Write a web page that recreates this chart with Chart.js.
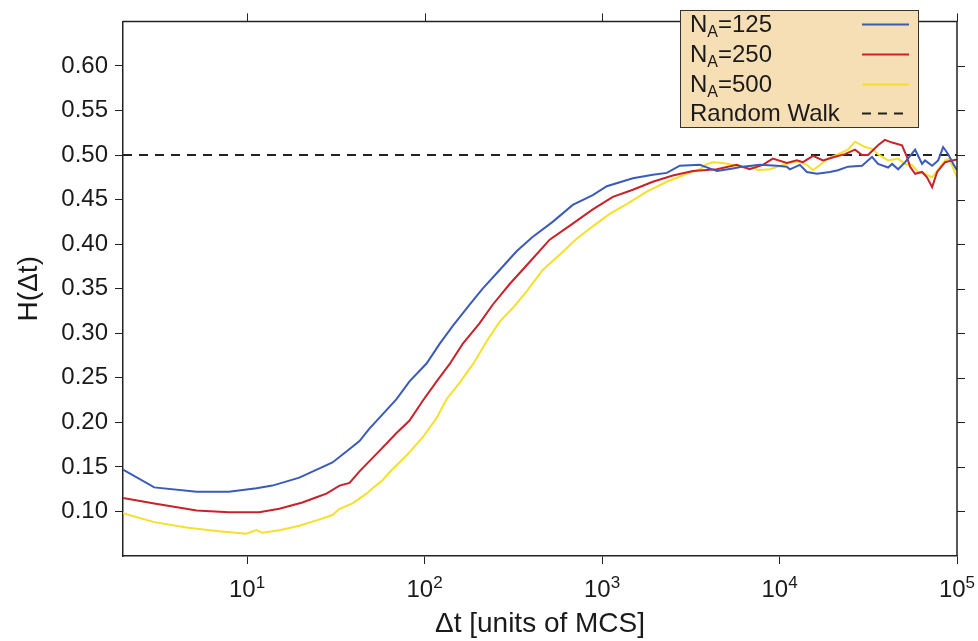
<!DOCTYPE html>
<html>
<head>
<meta charset="utf-8">
<script src="https://cdn.jsdelivr.net/npm/chart.js@4.4.0/dist/chart.umd.min.js"></script>
<style>
  html, body { margin: 0; padding: 0; background: #fff; }
</style>
</head>
<body>
<canvas id="chart" width="978" height="641"></canvas>
<script>
// values (x = Δt in MCS, y = H(Δt))
const dt125 = [2, 3, 5.2, 7.9, 11.3, 13.9, 19.7, 30.3, 37.8, 43, 48.9, 58, 69.5, 82.3, 102.6, 121.6, 143.9, 179.5, 212.5, 265, 330, 406, 527, 684, 887, 1064, 1492, 1933, 2318, 2743, 3556, 4437, 5458, 6213, 7745, 9661, 10990, 11429, 13025, 14259, 16250, 19235, 21335, 24313, 29174, 33196, 35894, 40923, 43073, 46589, 51024, 58093, 63552, 66090, 72432, 78316, 83560, 89186, 95265, 100000];
const h125 = [0.147, 0.127, 0.122, 0.122, 0.126, 0.129, 0.138, 0.155, 0.170, 0.179, 0.193, 0.209, 0.226, 0.246, 0.266, 0.288, 0.308, 0.332, 0.350, 0.371, 0.392, 0.408, 0.425, 0.444, 0.455, 0.465, 0.474, 0.478, 0.480, 0.488, 0.489, 0.482, 0.485, 0.487, 0.489, 0.488, 0.487, 0.484, 0.489, 0.481, 0.479, 0.481, 0.483, 0.487, 0.488, 0.498, 0.490, 0.486, 0.490, 0.484, 0.492, 0.506, 0.490, 0.494, 0.488, 0.494, 0.509, 0.501, 0.490, 0.483];

const dt250 = [2, 3, 5.2, 7.9, 11.7, 15.2, 20.5, 24.6, 28, 33.2, 37.8, 43, 55.7, 69.5, 82.3, 97.5, 117, 138, 164, 204, 242, 301, 391, 507, 684, 887, 1151, 1492, 1933, 2506, 3251, 4437, 5741, 6792, 8054, 9165, 10990, 12531, 13554, 15447, 17577, 20556, 23379, 26625, 29174, 31550, 35894, 39264, 43073, 48978, 52240, 54325, 58093, 63552, 67750, 72432, 77312, 85775, 93972, 100000];
const h250 = [0.115, 0.109, 0.101, 0.099, 0.099, 0.103, 0.110, 0.116, 0.120, 0.129, 0.132, 0.145, 0.168, 0.188, 0.202, 0.224, 0.246, 0.265, 0.288, 0.311, 0.332, 0.355, 0.380, 0.405, 0.423, 0.439, 0.453, 0.461, 0.470, 0.477, 0.482, 0.484, 0.489, 0.484, 0.489, 0.496, 0.491, 0.494, 0.492, 0.499, 0.494, 0.498, 0.501, 0.506, 0.500, 0.500, 0.511, 0.517, 0.514, 0.511, 0.498, 0.487, 0.479, 0.481, 0.475, 0.464, 0.481, 0.492, 0.494, 0.495];

const dt500 = [2, 3, 4.55, 6.71, 9.9, 11.3, 12.2, 15.2, 19.7, 24.6, 30.3, 33.2, 39.3, 47.1, 50.9, 58, 63.5, 79.3, 97.5, 117, 133, 157, 187, 224, 265, 313, 376, 463, 577, 720, 887, 1104, 1377, 1786, 2318, 3007, 3556, 3899, 4217, 4797, 5458, 6213, 7080, 7551, 8831, 10471, 12531, 14259, 15447, 16904, 18750, 22489, 24313, 26625, 30339, 33196, 35894, 40923, 46589, 51024, 55847, 60395, 66090, 72432, 78316, 85775, 90365, 100000];
const h500 = [0.098, 0.088, 0.082, 0.078, 0.075, 0.079, 0.076, 0.079, 0.084, 0.090, 0.096, 0.103, 0.109, 0.120, 0.126, 0.135, 0.144, 0.163, 0.183, 0.205, 0.226, 0.244, 0.265, 0.291, 0.313, 0.328, 0.347, 0.371, 0.388, 0.406, 0.420, 0.434, 0.445, 0.459, 0.470, 0.479, 0.484, 0.490, 0.492, 0.491, 0.489, 0.486, 0.487, 0.483, 0.484, 0.489, 0.493, 0.489, 0.483, 0.489, 0.496, 0.503, 0.506, 0.515, 0.509, 0.507, 0.501, 0.494, 0.496, 0.490, 0.489, 0.481, 0.479, 0.475, 0.484, 0.494, 0.496, 0.475];

const walkDt = [2, 100000];
const walkH = [0.5, 0.5];

const xTicks = [10, 100, 1000, 10000, 100000];
const yTicks = [0.10, 0.15, 0.20, 0.25, 0.30, 0.35, 0.40, 0.45, 0.50, 0.55, 0.60];

const FONT = "'Liberation Sans', Arial, Helvetica, sans-serif";
const INK = '#1a1a1a';

function toPoints(xs, ys) {
  return xs.map((x, i) => ({ x: x, y: ys[i] }));
}

// top/right frame, decade labels with superscripts, and the legend box
const framePlugin = {
  id: 'frame',
  afterDraw(chart) {
    const ctx = chart.ctx;
    const area = chart.chartArea;
    const xs = chart.scales.x;
    const ys = chart.scales.y;
    ctx.save();
    ctx.strokeStyle = '#222';
    ctx.lineWidth = 1.5;
    ctx.beginPath();
    ctx.moveTo(area.left, area.top);
    ctx.lineTo(area.right, area.top);
    ctx.lineTo(area.right, area.bottom);
    ctx.stroke();
    ctx.lineWidth = 1;
    ctx.beginPath();
    xTicks.forEach(v => {
      const px = Math.round(xs.getPixelForValue(v)) + 0.5;
      ctx.moveTo(px, area.top);
      ctx.lineTo(px, area.top - 8);
    });
    yTicks.forEach(v => {
      const py = Math.round(ys.getPixelForValue(v)) + 0.5;
      ctx.moveTo(area.right, py);
      ctx.lineTo(area.right + 8, py);
    });
    ctx.stroke();

    // x tick labels: 10^n
    ctx.fillStyle = INK;
    ctx.textBaseline = 'alphabetic';
    ctx.textAlign = 'left';
    xTicks.forEach(v => {
      const px = xs.getPixelForValue(v);
      const exp = String(Math.round(Math.log10(v)));
      ctx.font = '24px ' + FONT;
      const w1 = ctx.measureText('10').width;
      ctx.font = '17px ' + FONT;
      const w2 = ctx.measureText(exp).width;
      const x0 = px - (w1 + w2) / 2;
      ctx.font = '24px ' + FONT;
      ctx.fillText('10', x0, 597);
      ctx.font = '17px ' + FONT;
      ctx.fillText(exp, x0 + w1, 588);
    });

    // legend
    const box = { x: 680.5, y: 10.5, w: 238, h: 117 };
    ctx.fillStyle = '#f7dfb5';
    ctx.fillRect(box.x, box.y, box.w, box.h);
    ctx.strokeStyle = '#333';
    ctx.lineWidth = 1;
    ctx.strokeRect(box.x, box.y, box.w, box.h);
    const rows = [32, 62, 92, 121];
    chart.data.datasets.forEach((ds, i) => {
      const base = rows[i];
      let x = 690;
      ctx.fillStyle = INK;
      if (ds.label.startsWith('N_A')) {
        ctx.font = '24px ' + FONT;
        ctx.fillText('N', x, base);
        x += ctx.measureText('N').width;
        ctx.font = '16px ' + FONT;
        ctx.fillText('A', x, base + 5);
        x += ctx.measureText('A').width;
        ctx.font = '24px ' + FONT;
        ctx.fillText(ds.label.slice(3), x, base);
      } else {
        ctx.font = '24px ' + FONT;
        ctx.fillText(ds.label, x, base);
      }
      const ly = base - 7.5;
      ctx.strokeStyle = ds.borderColor;
      ctx.lineWidth = 2;
      ctx.setLineDash(ds.borderDash || []);
      ctx.beginPath();
      ctx.moveTo(862, ly);
      ctx.lineTo(ds.borderDash ? 903 : 909, ly);
      ctx.stroke();
      ctx.setLineDash([]);
    });
    ctx.restore();
  }
};

new Chart(document.getElementById('chart'), {
  type: 'line',
  data: {
    datasets: [
      { label: 'N_A=125', data: toPoints(dt125, h125), borderColor: '#3a5bb8' },
      { label: 'N_A=250', data: toPoints(dt250, h250), borderColor: '#c8222b' },
      { label: 'N_A=500', data: toPoints(dt500, h500), borderColor: '#f6e02a' },
      { label: 'Random Walk', data: toPoints(walkDt, walkH), borderColor: '#222', borderDash: [9, 7] }
    ]
  },
  options: {
    responsive: false,
    animation: false,
    layout: { padding: { top: 19, right: 21, left: 0, bottom: 0 } },
    plugins: { legend: { display: false }, tooltip: { enabled: false } },
    elements: {
      point: { radius: 0 },
      line: { tension: 0, borderWidth: 2, fill: false }
    },
    scales: {
      x: {
        type: 'logarithmic',
        min: 2,
        max: 100000,
        afterBuildTicks: s => { s.ticks = xTicks.map(v => ({ value: v })); },
        afterFit: s => { s.height = 85; },
        ticks: { display: false },
        grid: { drawOnChartArea: false, tickLength: 8, color: '#222', lineWidth: 1 },
        border: { color: '#222', width: 1.5 },
        title: {
          display: true,
          text: 'Δt [units of MCS]',
          color: INK,
          font: { family: FONT, size: 28 },
          padding: { top: 0, bottom: 0 }
        }
      },
      y: {
        min: 0.05,
        max: 0.65,
        afterBuildTicks: s => { s.ticks = yTicks.map(v => ({ value: v })); },
        afterFit: s => { s.width = 123; },
        ticks: {
          callback: v => Number(v).toFixed(2),
          color: INK,
          font: { family: FONT, size: 24 },
          padding: 7
        },
        grid: { drawOnChartArea: false, tickLength: 8, color: '#222', lineWidth: 1 },
        border: { color: '#222', width: 1.5 },
        title: {
          display: true,
          text: 'H(Δt)',
          color: INK,
          font: { family: FONT, size: 28 },
          padding: { top: 12, bottom: 0 }
        }
      }
    }
  },
  plugins: [framePlugin]
});
</script>
</body>
</html>
